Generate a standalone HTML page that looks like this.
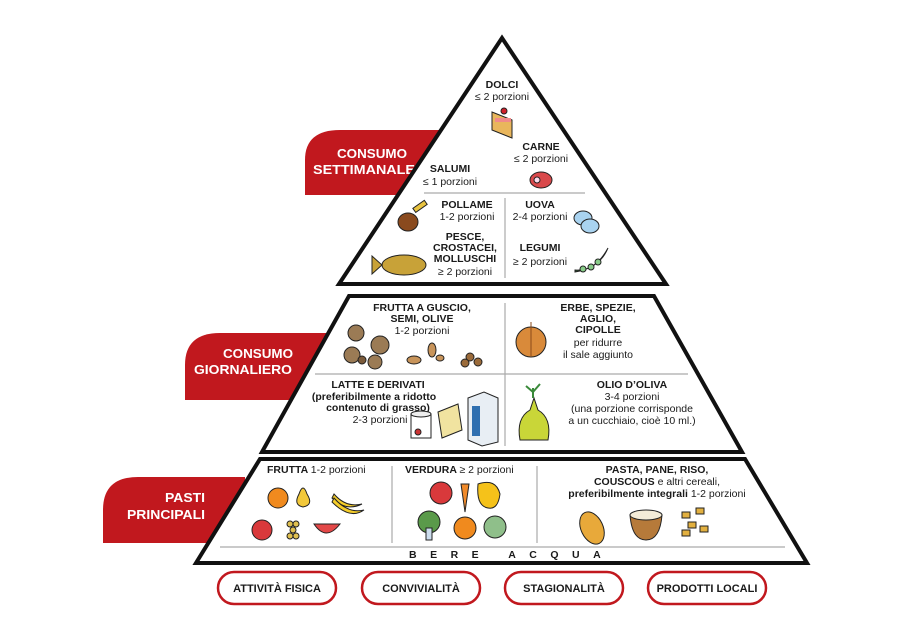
<!DOCTYPE html>
<html><head><meta charset="utf-8"><style>
html,body{margin:0;padding:0;background:#fff;}
svg{display:block;}
text{font-family:"Liberation Sans",sans-serif;fill:#1a1a1a;}
.b{font-weight:bold;font-size:10.5px;}
.n{font-size:10.5px;}
.t{font-weight:bold;font-size:13px;fill:#fff;}
.p{font-weight:bold;font-size:11px;}
</style></head><body>
<svg width="900" height="636" viewBox="0 0 900 636" xmlns="http://www.w3.org/2000/svg">
<rect width="900" height="636" fill="#fff"/>
<!-- red tabs -->
<path d="M305,195 L305,160 Q305,130 340,130 L450,130 L450,195 Z" fill="#c1181e"/>
<path d="M185,400 L185,365 Q185,333 220,333 L330,333 L330,400 Z" fill="#c1181e"/>
<path d="M103,543 L103,510 Q103,477 138,477 L245,477 L245,543 Z" fill="#c1181e"/>
<text class="t" x="337" y="158" textLength="70" lengthAdjust="spacingAndGlyphs">CONSUMO</text>
<text class="t" x="313" y="174" textLength="102" lengthAdjust="spacingAndGlyphs">SETTIMANALE</text>
<text class="t" x="223" y="358" textLength="70" lengthAdjust="spacingAndGlyphs">CONSUMO</text>
<text class="t" x="194" y="374" textLength="98" lengthAdjust="spacingAndGlyphs">GIORNALIERO</text>
<text class="t" x="165" y="502" textLength="40" lengthAdjust="spacingAndGlyphs">PASTI</text>
<text class="t" x="127" y="519" textLength="78" lengthAdjust="spacingAndGlyphs">PRINCIPALI</text>
<!-- pyramid shapes -->
<polygon points="502,38 666,284 339,284" fill="#fff" stroke="#111" stroke-width="4" stroke-linejoin="miter"/>
<polygon points="349,296 654,296 742,452 262,452" fill="#fff" stroke="#111" stroke-width="4"/>
<polygon points="260,459 745,459 807,563 196,563" fill="#fff" stroke="#111" stroke-width="4"/>
<!-- dividers -->
<g stroke="#aaa" stroke-width="1.2">
<line x1="424" y1="193" x2="585" y2="193"/>
<line x1="505" y1="198" x2="505" y2="278"/>
<line x1="505" y1="303" x2="505" y2="446"/>
<line x1="315" y1="374" x2="688" y2="374"/>
<line x1="392" y1="466" x2="392" y2="543"/>
<line x1="537" y1="466" x2="537" y2="543"/>
<line x1="220" y1="547" x2="785" y2="547"/>
</g>
<!-- top texts -->
<g text-anchor="middle">
<text class="b" x="502" y="88">DOLCI</text>
<text class="n" x="502" y="100">≤ 2 porzioni</text>
<text class="b" x="541" y="150">CARNE</text>
<text class="n" x="541" y="162">≤ 2 porzioni</text>
<text class="b" x="450" y="172">SALUMI</text>
<text class="n" x="450" y="185">≤ 1 porzioni</text>
<text class="b" x="467" y="208">POLLAME</text>
<text class="n" x="467" y="220">1-2 porzioni</text>
<text class="b" x="540" y="208">UOVA</text>
<text class="n" x="540" y="220">2-4 porzioni</text>
<text class="b" x="465" y="240">PESCE,</text>
<text class="b" x="465" y="251">CROSTACEI,</text>
<text class="b" x="465" y="262">MOLLUSCHI</text>
<text class="n" x="465" y="275">≥ 2 porzioni</text>
<text class="b" x="540" y="251">LEGUMI</text>
<text class="n" x="540" y="265">≥ 2 porzioni</text>
<!-- middle -->
<text class="b" x="422" y="311">FRUTTA A GUSCIO,</text>
<text class="b" x="422" y="322">SEMI, OLIVE</text>
<text class="n" x="422" y="334">1-2 porzioni</text>
<text class="b" x="598" y="311">ERBE, SPEZIE,</text>
<text class="b" x="598" y="322">AGLIO,</text>
<text class="b" x="598" y="333">CIPOLLE</text>
<text class="n" x="598" y="346">per ridurre</text>
<text class="n" x="598" y="358">il sale aggiunto</text>
<text class="b" x="378" y="388">LATTE E DERIVATI</text>
<text class="b" x="374" y="400">(preferibilmente a ridotto</text>
<text class="b" x="378" y="411">contenuto di grasso)</text>
<text class="n" x="380" y="423">2-3 porzioni</text>
<text class="b" x="632" y="388">OLIO D’OLIVA</text>
<text class="n" x="632" y="400">3-4 porzioni</text>
<text class="n" x="632" y="412">(una porzione corrisponde</text>
<text class="n" x="632" y="424">a un cucchiaio, cioè 10 ml.)</text>
<!-- bottom -->
<text class="b" x="657" y="473">PASTA, PANE, RISO,</text>
<text class="b" x="657" y="485">COUSCOUS <tspan font-weight="normal">e altri cereali,</tspan></text>
<text class="b" x="657" y="497">preferibilmente integrali <tspan font-weight="normal">1-2 porzioni</tspan></text>
</g>
<text class="b" x="267" y="473">FRUTTA <tspan font-weight="normal">1-2 porzioni</tspan></text>
<text class="b" x="405" y="473">VERDURA <tspan font-weight="normal">≥ 2 porzioni</tspan></text>
<text class="b" x="409" y="558" letter-spacing="13.5" font-size="10">BERE ACQUA</text>
<!-- icons top -->
<g stroke="#222" stroke-width="1">
<polygon points="492,112 512,120 512,138 492,130" fill="#e9b65c"/>
<rect x="495" y="118" width="16" height="4" fill="#f08a8a" stroke="none"/>
<circle cx="504" cy="111" r="3" fill="#d0202a"/>
<ellipse cx="541" cy="180" rx="11" ry="8" fill="#d9494b"/>
<circle cx="537" cy="180" r="3" fill="#fde"/>
<ellipse cx="408" cy="222" rx="10" ry="9" fill="#8a4a1e"/>
<rect x="414" y="208" width="14" height="5" fill="#e8c340" transform="rotate(-35 414 210)"/>
<ellipse cx="583" cy="218" rx="9" ry="7" fill="#a9d3f0"/>
<ellipse cx="590" cy="226" rx="9" ry="7" fill="#a9d3f0"/>
<ellipse cx="404" cy="265" rx="22" ry="10" fill="#c8a238"/>
<polygon points="382,265 372,256 372,274" fill="#c8a238"/>
<path d="M575,270 Q595,272 608,248 Q600,268 575,272 Z" fill="#3a6a3a"/>
<circle cx="583" cy="269" r="3" fill="#8c8"/><circle cx="591" cy="267" r="3" fill="#8c8"/><circle cx="598" cy="262" r="3" fill="#8c8"/>
<!-- middle icons -->
<circle cx="356" cy="333" r="8" fill="#9b7b55"/><circle cx="380" cy="345" r="9" fill="#9b7b55"/>
<circle cx="352" cy="355" r="8" fill="#9b7b55"/><circle cx="375" cy="362" r="7" fill="#9b7b55"/>
<circle cx="362" cy="360" r="4" fill="#7a5a3a"/>
<ellipse cx="414" cy="360" rx="7" ry="4" fill="#c8945a"/><ellipse cx="432" cy="350" rx="4" ry="7" fill="#c8945a"/><ellipse cx="440" cy="358" rx="4" ry="3" fill="#c8945a"/>
<circle cx="470" cy="357" r="4" fill="#9b6b3a"/><circle cx="478" cy="362" r="4" fill="#9b6b3a"/><circle cx="465" cy="363" r="4" fill="#9b6b3a"/>
<ellipse cx="531" cy="342" rx="15" ry="15" fill="#d98a3a"/>
<path d="M531,322 L531,356" stroke="#8a4a1a"/>
<rect x="411" y="414" width="20" height="24" fill="#fff"/><ellipse cx="421" cy="414" rx="10" ry="3" fill="#eee"/><circle cx="418" cy="432" r="3" fill="#c33"/>
<polygon points="438,412 458,404 462,430 442,438" fill="#f1e3a0"/>
<polygon points="468,398 484,392 498,398 498,442 482,446 468,440" fill="#e8eef4"/>
<rect x="472" y="406" width="8" height="30" fill="#2f6fb0" stroke="none"/>
<path d="M520,440 Q516,418 530,410 L534,398 L538,410 Q552,418 548,440 Z" fill="#c9d638"/>
<path d="M533,398 L533,388 M533,392 L526,386 M533,392 L540,384" stroke="#3a8a3a" stroke-width="2"/>
<!-- bottom icons -->
<circle cx="278" cy="498" r="10" fill="#f08a1e"/>
<path d="M303,507 Q293,505 299,494 Q303,482 307,494 Q314,505 303,507 Z" fill="#f2c83a"/>
<path d="M332,498 Q346,512 362,504 Q346,508 334,494 Z" fill="#f5cd2a"/>
<path d="M332,502 Q350,520 364,510 Q348,514 334,498 Z" fill="#f5cd2a"/>
<circle cx="262" cy="530" r="10" fill="#d9393b"/>
<circle cx="290" cy="524" r="3" fill="#e0c050"/><circle cx="296" cy="524" r="3" fill="#e0c050"/><circle cx="293" cy="530" r="3" fill="#e0c050"/><circle cx="290" cy="536" r="3" fill="#e0c050"/><circle cx="296" cy="536" r="3" fill="#e0c050"/>
<path d="M314,524 Q326,542 340,524 Z" fill="#e34848"/>
<circle cx="441" cy="493" r="11" fill="#d9393b"/>
<path d="M461,484 L469,484 L465,512 Z" fill="#f08a2a"/>
<path d="M478,484 Q496,478 500,494 Q498,510 488,508 Q476,506 478,484 Z" fill="#f5c21a"/>
<circle cx="429" cy="522" r="11" fill="#5a9a4a"/><rect x="426" y="528" width="6" height="12" fill="#cde"/>
<circle cx="465" cy="528" r="11" fill="#f08a1e"/>
<circle cx="495" cy="527" r="11" fill="#8fbf8a"/>
<ellipse cx="592" cy="528" rx="11" ry="17" fill="#e8a93a" transform="rotate(-25 592 528)"/>
<path d="M630,515 Q646,508 662,515 Q660,540 646,540 Q632,540 630,515 Z" fill="#b67a3a"/>
<ellipse cx="646" cy="515" rx="16" ry="5" fill="#f4ecd8"/>
<g fill="#e2b040"><rect x="682" y="512" width="8" height="6"/><rect x="696" y="508" width="8" height="6"/><rect x="688" y="522" width="8" height="6"/><rect x="700" y="526" width="8" height="6"/><rect x="682" y="530" width="8" height="6"/></g>
</g>
<!-- pills -->
<g fill="#fff" stroke="#c1181e" stroke-width="2.5">
<rect x="218" y="572" width="118" height="32" rx="16"/>
<rect x="362" y="572" width="118" height="32" rx="16"/>
<rect x="505" y="572" width="118" height="32" rx="16"/>
<rect x="648" y="572" width="118" height="32" rx="16"/>
</g>
<g text-anchor="middle">
<text class="p" x="277" y="592">ATTIVITÀ FISICA</text>
<text class="p" x="421" y="592">CONVIVIALITÀ</text>
<text class="p" x="564" y="592">STAGIONALITÀ</text>
<text class="p" x="707" y="592">PRODOTTI LOCALI</text>
</g>
</svg>
</body></html>
